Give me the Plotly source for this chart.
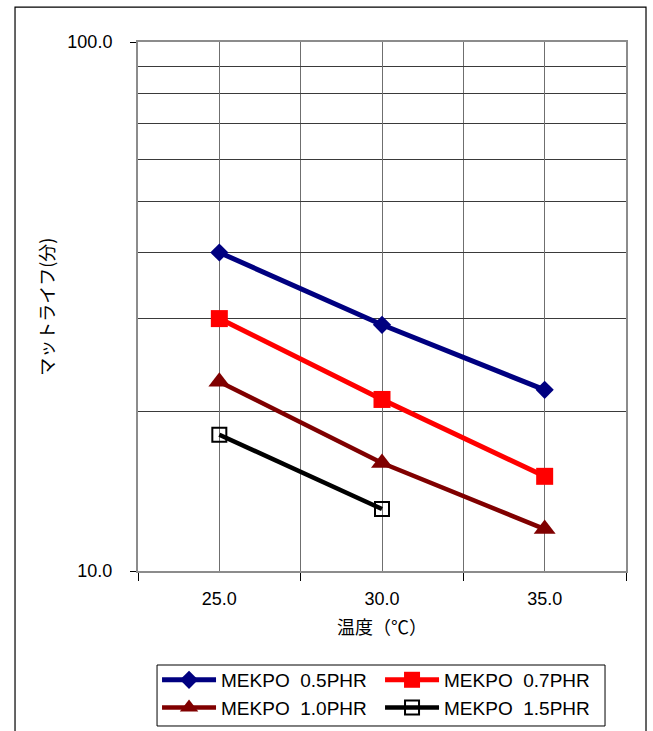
import plotly.graph_objects as go

# Mat life (minutes) versus temperature for each MEKPO dosage
temps = [25.0, 30.0, 35.0]
series_names = ["MEKPO\u00a0\u00a00.5PHR", "MEKPO\u00a0\u00a00.7PHR",
                "MEKPO\u00a0\u00a01.0PHR", "MEKPO\u00a0\u00a01.5PHR"]
life_05 = [40.0, 29.2, 22.0]
life_07 = [30.0, 21.1, 15.1]
life_10 = [22.8, 16.0, 12.0]
life_15 = [18.1, 13.1]

colors = ["#000080", "#FF0000", "#800000", "#000000"]
symbols = ["diamond", "square", "triangle-up", "square-open"]
msizes = [14, 17, 19, 14]
lwidths = [5, 5, 4.5, 4.5]

y_major = [10, 100]
y_minor = [20, 30, 40, 50, 60, 70, 80, 90]
x_bounds = [22.5, 27.5, 32.5, 37.5]

FONT = "Liberation Sans, Arial, Noto Sans CJK JP, sans-serif"
CJK = "Noto Sans CJK JP, sans-serif"

fig = go.Figure()
for name, ys, c, sym, ms, lw in zip(series_names, [life_05, life_07, life_10, life_15],
                                    colors, symbols, msizes, lwidths):
    fig.add_trace(go.Scatter(
        x=temps[:len(ys)], y=ys, name=name, mode="lines+markers",
        line=dict(color=c, width=lw),
        marker=dict(symbol=sym, size=ms, color=c,
                    line=dict(color=c, width=2 if sym.endswith("open") else 0)),
    ))

fig.update_layout(
    width=653, height=731,
    margin=dict(l=138, r=27, t=42, b=160, autoexpand=False),
    paper_bgcolor="white", plot_bgcolor="white",
    font=dict(family=FONT, size=18, color="black"),
    showlegend=True,
    legend=dict(
        orientation="h", x=0.039, y=-0.170, xanchor="left", yanchor="top",
        borderwidth=0, bgcolor="rgba(0,0,0,0)", entrywidth=154,
        font=dict(size=19), tracegroupgap=0, itemwidth=54,
    ),
)

fig.update_xaxes(
    range=[22.5, 37.5],
    tickmode="array", tickvals=temps, tickformat=".1f",
    ticks="", showgrid=True, gridcolor="#6f6f6f", gridwidth=1,
    showline=True, linecolor="#8c8c8c", linewidth=2, mirror=True,
    zeroline=False, ticklabelstandoff=10,
    minor=dict(tickmode="array", tickvals=x_bounds, ticks="outside",
               ticklen=8, tickcolor="black", showgrid=True,
               gridcolor="#6f6f6f", gridwidth=1),
)

fig.update_yaxes(
    type="log", range=[1, 2],
    tickmode="array", tickvals=y_major, tickformat=".1f",
    ticks="outside", ticklen=6, tickcolor="black",
    showgrid=False,
    showline=True, linecolor="#8c8c8c", linewidth=2, mirror=True,
    zeroline=False, ticklabelstandoff=14,
    minor=dict(tickmode="array", tickvals=y_minor, ticks="",
               showgrid=True, gridcolor="#3a3a3a", gridwidth=1),
)

# Axis titles
fig.add_annotation(text="マットライフ(分)", xref="paper", yref="paper",
                   x=-0.19, y=0.5, textangle=-90, showarrow=False,
                   xanchor="center", yanchor="middle",
                   font=dict(family=CJK, size=18, color="black"))
fig.add_annotation(text="温度（℃）", xref="paper", yref="paper",
                   x=0.5, y=-0.104, showarrow=False,
                   xanchor="center", yanchor="middle",
                   font=dict(family=CJK, size=18, color="black"))

# Outer chart frame
fig.add_shape(type="rect", xref="paper", yref="paper",
              x0=-0.252, x1=1.041, y0=-0.4, y1=1.066,
              line=dict(color="black", width=1.2), layer="below")

# Frame around the legend entries
fig.add_shape(type="rect", xref="paper", yref="paper",
              x0=0.039, x1=0.957, y0=-0.293, y1=-0.1777,
              line=dict(color="black", width=1), layer="below")

fig.write_html("out.html")
